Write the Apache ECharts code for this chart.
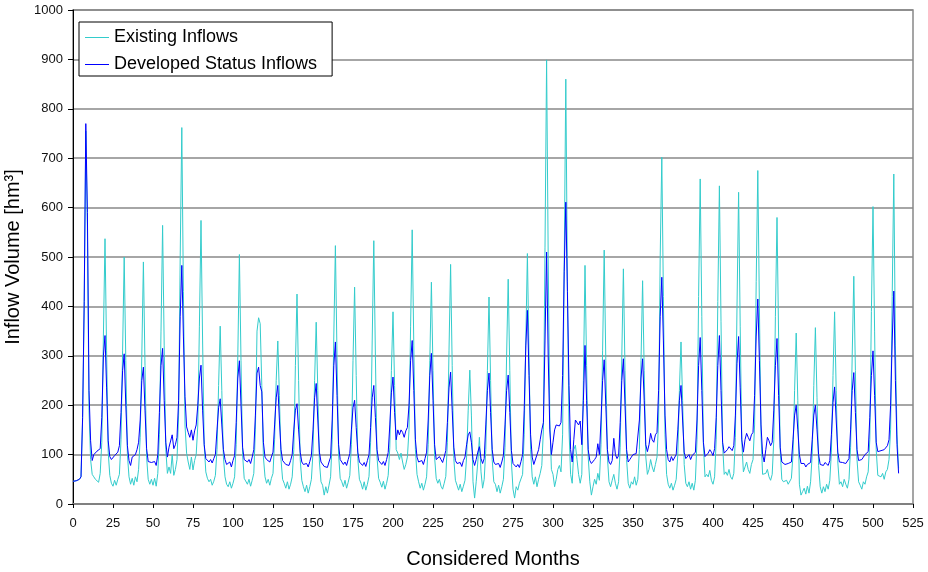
<!DOCTYPE html>
<html>
<head>
<meta charset="utf-8">
<script src="https://cdn.jsdelivr.net/npm/echarts@6/dist/echarts.min.js"></script>
<style>
html,body{margin:0;padding:0;background:#fff;}
#chart{width:928px;height:572px;}
</style>
</head>
<body>
<div id="chart"></div>
<script>
// Monthly inflow volumes [hm³], month 0 .. 516 (one row per 12 months)
var existingInflows = [
  46, 46, 47, 48, 50, 55, 170, 400, 755, 560, 190, 90,
  60, 55, 50, 48, 44, 62, 125, 340, 537, 310, 105, 58,
  42, 36, 48, 38, 50, 60, 130, 310, 500, 290, 100, 55,
  40, 52, 38, 55, 45, 70, 135, 300, 490, 280, 95, 50,
  40, 50, 38, 52, 36, 62, 140, 350, 564, 320, 110, 62,
  75, 62, 100, 58, 70, 90, 180, 500, 762, 430, 160, 103,
  85, 70, 95, 69, 88, 100, 160, 360, 574, 330, 120, 65,
  52, 45, 50, 38, 46, 58, 110, 240, 360, 230, 95, 55,
  40, 35, 45, 32, 42, 55, 120, 300, 505, 290, 100, 52,
  48, 40, 50, 36, 48, 62, 150, 350, 377, 365, 240, 95,
  55, 42, 50, 38, 52, 62, 130, 250, 330, 220, 90, 50,
  42, 32, 45, 30, 40, 55, 110, 280, 425, 250, 90, 48,
  35, 25, 38, 22, 35, 50, 105, 250, 368, 230, 85, 45,
  38, 18, 35, 22, 38, 55, 130, 340, 523, 300, 100, 52,
  45, 35, 48, 32, 44, 58, 120, 290, 439, 260, 92, 50,
  42, 30, 45, 28, 40, 56, 125, 330, 533, 300, 95, 52,
  44, 34, 46, 30, 42, 58, 115, 270, 389, 240, 110, 103,
  90, 103, 85, 70, 80, 95, 150, 360, 555, 320, 110, 60,
  45, 32, 42, 28, 40, 55, 120, 290, 449, 270, 95, 52,
  42, 50, 36, 30, 42, 56, 125, 310, 485, 280, 92, 48,
  38, 28, 40, 25, 36, 48, 95, 190, 271, 180, 45, 12,
  45, 85, 135, 65, 32, 50, 110, 270, 419, 250, 90, 45,
  40, 25, 38, 22, 35, 50, 115, 300, 455, 270, 85, 30,
  12, 35, 28, 42, 38, 60, 140, 330, 507, 300, 110, 55,
  40, 55, 35, 50, 62, 78, 150, 520, 899, 500, 170, 70,
  60, 35, 50, 70, 78, 65, 140, 480, 860, 450, 150, 60,
  42, 110, 119, 90, 60, 42, 60, 250, 483, 280, 95, 45,
  18, 35, 50, 40, 62, 48, 120, 310, 514, 290, 95, 45,
  35, 48, 60, 42, 30, 45, 115, 300, 476, 270, 90, 42,
  32, 45, 40, 55, 38, 50, 110, 290, 452, 270, 95, 60,
  70, 90, 75, 65, 80, 95, 170, 500, 702, 420, 140, 60,
  40, 32, 42, 28, 38, 50, 100, 230, 328, 210, 80, 42,
  35, 45, 30, 42, 28, 48, 130, 420, 658, 380, 120, 55,
  60, 55, 68, 48, 40, 55, 130, 410, 644, 370, 120, 60,
  65, 58, 70, 55, 50, 62, 135, 400, 631, 360, 125, 65,
  75, 85, 70, 62, 80, 90, 160, 450, 675, 400, 140, 60,
  58, 62, 70, 55, 48, 60, 130, 380, 580, 340, 110, 50,
  45, 42, 48, 40, 44, 52, 100, 230, 346, 210, 40, 18,
  25, 32, 20, 36, 22, 45, 100, 240, 357, 215, 78, 35,
  22, 35, 25, 40, 30, 48, 105, 260, 389, 230, 85, 40,
  45, 35, 50, 40, 32, 50, 115, 300, 461, 270, 90, 45,
  38, 30, 45, 40, 55, 65, 130, 390, 602, 350, 110, 58,
  60, 55, 62, 50, 65, 70, 90, 150, 420, 668, 320, 140, 72
];
var developedInflows = [
  46, 46, 47, 48, 50, 55, 175, 410, 770, 590, 230, 128,
  88, 100, 103, 107, 104, 112, 175, 300, 341, 235, 128, 96,
  90, 92, 98, 96, 105, 118, 185, 270, 304, 200, 118, 88,
  78, 95, 92, 100, 110, 125, 170, 250, 277, 190, 112, 86,
  82, 84, 80, 86, 78, 100, 185, 280, 315, 210, 125, 95,
  115, 118, 140, 112, 120, 135, 210, 380, 483, 340, 217, 156,
  145, 135, 150, 129, 148, 160, 200, 255, 281, 190, 120, 92,
  88, 85, 90, 83, 92, 100, 150, 195, 213, 160, 110, 90,
  80, 78, 85, 75, 88, 98, 165, 255, 290, 200, 115, 90,
  88, 85, 90, 82, 95, 110, 180, 265, 277, 240, 227, 125,
  95, 90, 92, 85, 95, 105, 160, 215, 240, 170, 110, 88,
  85, 80, 84, 78, 88, 100, 150, 190, 203, 150, 105, 85,
  80, 78, 82, 75, 86, 98, 150, 215, 244, 170, 105, 85,
  82, 76, 80, 74, 85, 95, 170, 280, 328, 220, 120, 90,
  86, 80, 85, 78, 90, 102, 150, 195, 210, 155, 105, 85,
  82, 78, 84, 76, 88, 100, 155, 215, 240, 175, 110, 88,
  84, 80, 86, 78, 90, 104, 160, 225, 257, 185, 130, 150,
  140, 150, 145, 135, 148, 155, 200, 290, 331, 230, 130, 95,
  85, 82, 88, 80, 92, 105, 170, 260, 305, 210, 120, 90,
  88, 96, 90, 84, 95, 108, 165, 235, 267, 190, 115, 88,
  82, 78, 84, 76, 88, 95, 120, 140, 146, 125, 90, 78,
  90, 105, 116, 92, 82, 92, 160, 230, 265, 185, 110, 85,
  80, 76, 82, 74, 85, 98, 160, 230, 261, 185, 108, 82,
  78, 75, 80, 74, 86, 100, 190, 320, 392, 260, 140, 95,
  80, 82, 100, 110, 130, 150, 165, 330, 510, 300, 150, 100,
  125, 150, 160, 162, 158, 165, 260, 470, 611, 430, 240, 110,
  85, 130, 170, 174, 160, 168, 120, 210, 321, 210, 110, 88,
  82, 85, 90, 95, 122, 100, 170, 250, 292, 200, 110, 85,
  80, 88, 133, 100, 92, 98, 165, 250, 294, 200, 110, 85,
  90, 95, 100, 98, 102, 105, 170, 255, 294, 210, 120, 106,
  120, 143, 130, 125, 140, 145, 230, 380, 459, 330, 180, 110,
  90, 85, 96, 88, 92, 100, 150, 210, 240, 170, 105, 92,
  96, 100, 90, 98, 94, 105, 170, 280, 337, 230, 125, 96,
  100, 103, 110, 105, 98, 112, 175, 280, 341, 230, 125, 103,
  105, 110, 116, 112, 108, 118, 180, 285, 339, 235, 130, 105,
  130, 143, 135, 128, 140, 145, 220, 340, 415, 290, 160, 100,
  85, 110, 135, 128, 118, 125, 190, 280, 335, 220, 115, 85,
  82, 80, 78, 82, 80, 85, 130, 180, 200, 150, 100, 82,
  78, 82, 75, 80, 76, 84, 130, 180, 200, 150, 100, 80,
  80, 78, 84, 80, 78, 88, 140, 205, 237, 170, 105, 85,
  86, 84, 88, 82, 85, 92, 150, 230, 266, 185, 110, 88,
  84, 90, 95, 100, 104, 106, 175, 260, 310, 220, 125, 106,
  110, 108, 112, 110, 114, 118, 130, 200, 330, 431, 250, 120, 62
];
var seriesNames = ['Existing Inflows', 'Developed Status Inflows'];
var seriesColors = ['#33CCCC', '#0000FF'];
var xTitle = 'Considered Months';
var yTitle = 'Inflow Volume [hm\u00B3]';

function toPairs(arr) { return arr.map(function (v, i) { return [i, v]; }); }

var FONT = '"Liberation Sans", Arial, sans-serif';
var chart = echarts.init(document.getElementById('chart'), null, {renderer: 'canvas'});
chart.setOption({
  animation: false,
  backgroundColor: '#ffffff',
  textStyle: {fontFamily: FONT},
  grid: {left: 73, right: 15, top: 10, bottom: 68, containLabel: false, outerBoundsMode: 'none',
         show: true, borderColor: '#888888', borderWidth: 1.5, backgroundColor: 'transparent'},
  legend: {
    data: seriesNames,
    orient: 'vertical',
    left: 79, top: 22,
    backgroundColor: '#ffffff',
    borderColor: '#000000', borderWidth: 1,
    padding: [6, 15, 2, 6],
    icon: 'rect',
    itemWidth: 24, itemHeight: 1, itemGap: 8,
    textStyle: {fontSize: 18, lineHeight: 19, color: '#000', fontFamily: FONT}
  },
  xAxis: {
    type: 'value', min: 0, max: 525, interval: 25,
    name: xTitle, nameLocation: 'middle', nameGap: 45,
    nameTextStyle: {fontSize: 20, color: '#000', fontFamily: FONT},
    axisLine: {show: true, onZero: false, lineStyle: {color: '#808080', width: 2}},
    axisTick: {show: true, length: 4, lineStyle: {color: '#000', width: 1}},
    axisLabel: {fontSize: 13, color: '#111', margin: 13, fontFamily: FONT},
    splitLine: {show: false}
  },
  yAxis: {
    type: 'value', min: 0, max: 1000, interval: 100,
    name: yTitle, nameLocation: 'middle', nameGap: 47,
    nameTextStyle: {fontSize: 20, color: '#000', fontFamily: FONT},
    axisLine: {show: true, lineStyle: {color: '#000', width: 1}},
    axisTick: {show: true, length: 5, lineStyle: {color: '#000', width: 1}},
    axisLabel: {fontSize: 13, color: '#111', margin: 10, fontFamily: FONT,
                formatter: function (v) { return String(v); }},
    splitLine: {show: true, lineStyle: {color: '#888888', width: 1.5}}
  },
  series: [
    {name: seriesNames[0], type: 'line', data: toPairs(existingInflows), symbol: 'none', showSymbol: false,
     lineStyle: {color: seriesColors[0], width: 1}, itemStyle: {color: seriesColors[0]}, z: 2},
    {name: seriesNames[1], type: 'line', data: toPairs(developedInflows), symbol: 'none', showSymbol: false,
     lineStyle: {color: seriesColors[1], width: 1}, itemStyle: {color: seriesColors[1]}, z: 3}
  ]
});
</script>
</body>
</html>
